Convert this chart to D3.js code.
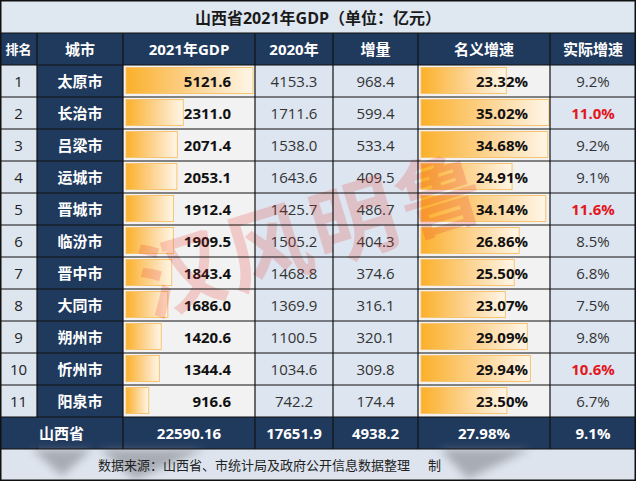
<!DOCTYPE html>
<html><head><meta charset="utf-8">
<script src="https://cdn.jsdelivr.net/npm/d3@7"></script>
<style>html,body{margin:0;padding:0;background:#fff;}svg{display:block;}</style>
</head><body>
<script>
const title = "山西省2021年GDP（单位：亿元）";
const headers = ["排名","城市","2021年GDP","2020年","增量","名义增速","实际增速"];
const ranks = [1,2,3,4,5,6,7,8,9,10,11];
const cities = ["太原市","长治市","吕梁市","运城市","晋城市","临汾市","晋中市","大同市","朔州市","忻州市","阳泉市"];
const gdp2021 = [5121.6,2311.0,2071.4,2053.1,1912.4,1909.5,1843.4,1686.0,1420.6,1344.4,916.6];
const gdp2020 = [4153.3,1711.6,1538.0,1643.6,1425.7,1505.2,1468.8,1369.9,1100.5,1034.6,742.2];
const increase = [968.4,599.4,533.4,409.5,486.7,404.3,374.6,316.1,320.1,309.8,174.4];
const nominal = [23.32,35.02,34.68,24.91,34.14,26.86,25.50,23.07,29.09,29.94,23.50];
const realGrowth = [9.2,11.0,9.2,9.1,11.6,8.5,6.8,7.5,9.8,10.6,6.7];
const totals = ["山西省","22590.16","17651.9","4938.2","27.98%","9.1%"];
const source = "数据来源：山西省、市统计局及政府公开信息数据整理";
const watermark = "汉风明鲁";

const W = 636, H = 481;
const colX = [0,37,123,255,333,418,550,636];
const titleH = 33, rowH = 32;
const headerTop = 33, rowsTop = 65;
const totalTop = rowsTop + rowH*cities.length; // 417
const sourceTop = totalTop + rowH; // 449
const NAVY = "#203a5e", LIGHT = "#dce5f0", GREY = "#f2f2f2";
const FONT = "'Open Sans','Noto Sans CJK SC',sans-serif";
const colBg = ["#dde5ef", NAVY, GREY, LIGHT, LIGHT, GREY, LIGHT];

const svg = d3.select("body").append("svg").attr("width", W).attr("height", H)
  .style("font-family", FONT);

const defs = svg.append("defs");
const grad = defs.append("linearGradient").attr("id","barGrad");
grad.append("stop").attr("offset","0%").attr("stop-color","#fbb02a");
grad.append("stop").attr("offset","55%").attr("stop-color","#fdd596");
grad.append("stop").attr("offset","100%").attr("stop-color","#fff6e8");
const blur = defs.append("filter").attr("id","blur").attr("x","-50%").attr("y","-50%").attr("width","200%").attr("height","200%");
blur.append("feGaussianBlur").attr("stdDeviation", 4);

const y = d3.scaleBand().domain(d3.range(cities.length)).range([rowsTop, totalTop]);
const gdpScale = d3.scaleLinear().domain([0, d3.max(gdp2021)]).range([0, colX[3]-colX[2]-5]);
const pctScale = d3.scaleLinear().domain([0, d3.max(nominal)]).range([0, colX[6]-colX[5]-4]);

// title band
svg.append("rect").attr("x",0).attr("y",0).attr("width",W).attr("height",titleH).attr("fill","#dfe7f1");
svg.append("text").attr("x",W/2).attr("y",titleH/2+1).attr("text-anchor","middle").attr("dominant-baseline","central")
  .attr("font-size",16).attr("font-weight","bold").attr("fill","#1a1a1a").text(title);

// header
svg.append("rect").attr("x",0).attr("y",headerTop).attr("width",W).attr("height",rowH).attr("fill",NAVY);
headers.forEach((h,i)=>{
  svg.append("text").attr("x",(colX[i]+colX[i+1])/2).attr("y",headerTop+rowH/2)
    .attr("text-anchor","middle").attr("dominant-baseline","central")
    .attr("font-size", i===0?13:15).attr("font-weight","bold").attr("fill","#fff").text(h);
});

// column backgrounds for data rows
colBg.forEach((c,i)=>{
  svg.append("rect").attr("x",colX[i]).attr("y",rowsTop).attr("width",colX[i+1]-colX[i]).attr("height",totalTop-rowsTop).attr("fill",c);
});

const rows = svg.append("g").selectAll("g").data(cities).join("g")
  .attr("transform",(d,i)=>`translate(0,${y(i)})`);

// bars
rows.append("rect").attr("x",colX[2]+3).attr("y",2.5).attr("height",rowH-6)
  .attr("width",(d,i)=>gdpScale(gdp2021[i])).attr("fill","url(#barGrad)")
  .attr("stroke","#f6c46e").attr("stroke-width",1);
rows.append("rect").attr("x",colX[5]+3).attr("y",2.5).attr("height",rowH-6)
  .attr("width",(d,i)=>pctScale(nominal[i])).attr("fill","url(#barGrad)")
  .attr("stroke","#f6c46e").attr("stroke-width",1);

// watermark
svg.append("text").attr("transform","translate(312,232) rotate(-17)")
  .attr("text-anchor","middle").attr("dominant-baseline","central")
  .attr("font-size",86).attr("font-weight","bold").attr("fill","#e8302a").attr("opacity",0.2)
  .attr("letter-spacing",4).text(watermark);

const mid = i => (colX[i]+colX[i+1])/2;
const txt = (sel, x, anchor, size, weight, fill, fn) => sel.append("text")
  .attr("x",x).attr("y",rowH/2).attr("text-anchor",anchor).attr("dominant-baseline","central")
  .attr("font-size",size).attr("font-weight",weight).attr("fill",fill).text(fn);

txt(rows, mid(0), "middle", 15, "normal", "#222", (d,i)=>ranks[i]);
txt(rows, mid(1), "middle", 15, "bold", "#fff", d=>d);
txt(rows, 231, "end", 15, "bold", "#111", (d,i)=>gdp2021[i].toFixed(1));
txt(rows, mid(3), "middle", 15, "normal", "#333", (d,i)=>gdp2020[i].toFixed(1));
txt(rows, mid(4), "middle", 15, "normal", "#333", (d,i)=>increase[i].toFixed(1));
txt(rows, 528, "end", 15, "bold", "#111", (d,i)=>nominal[i].toFixed(2)+"%");
rows.append("text").attr("x",mid(6)).attr("y",rowH/2).attr("text-anchor","middle").attr("dominant-baseline","central")
  .attr("font-size",15)
  .attr("font-weight",(d,i)=>realGrowth[i]>=10?"bold":"normal")
  .attr("fill",(d,i)=>realGrowth[i]>=10?"#e3171e":"#333")
  .text((d,i)=>realGrowth[i].toFixed(1)+"%");

// total row
svg.append("rect").attr("x",0).attr("y",totalTop).attr("width",W).attr("height",rowH).attr("fill",NAVY);
const totalX = [(colX[0]+colX[2])/2, mid(2), mid(3), mid(4), mid(5), mid(6)];
totals.forEach((t,i)=>{
  svg.append("text").attr("x",totalX[i]).attr("y",totalTop+rowH/2).attr("text-anchor","middle").attr("dominant-baseline","central")
    .attr("font-size",15).attr("font-weight","bold").attr("fill","#fff").text(t);
});

// source row
svg.append("rect").attr("x",0).attr("y",sourceTop).attr("width",W).attr("height",H-sourceTop).attr("fill","#dde4ee");
const blobs = svg.append("g").attr("filter","url(#blur)").attr("opacity",0.55);
[[[32,449],[92,449],[62,476]],[[100,449],[205,449],[135,480]],[[440,449],[530,449],[468,479]]].forEach(p=>{
  blobs.append("path").attr("d", d3.line()(p)+"Z").attr("fill","#7d7f85");
});
svg.append("text").attr("x",410).attr("y",sourceTop+rowH/2).attr("text-anchor","end").attr("dominant-baseline","central")
  .attr("font-size",13).attr("fill","#222").text(source);
svg.append("text").attr("x",428).attr("y",sourceTop+rowH/2).attr("dominant-baseline","central")
  .attr("font-size",13).attr("fill","#222").text("制");

// grid lines
const grid = svg.append("g").attr("stroke","#111").attr("stroke-width",1.2);
[headerTop, rowsTop, ...d3.range(1,cities.length).map(i=>y(i)), totalTop, sourceTop].forEach(v=>{
  grid.append("line").attr("x1",0).attr("x2",W).attr("y1",v).attr("y2",v);
});
colX.slice(1,-1).forEach((x,i)=>{
  grid.append("line").attr("x1",x).attr("x2",x).attr("y1",headerTop).attr("y2",sourceTop)
    .attr("stroke", i===0 ? "#111" : "#111");
});
// remove vertical between rank & city in total row by overpainting
svg.append("rect").attr("x",colX[1]-1).attr("y",totalTop+1).attr("width",2).attr("height",rowH-2).attr("fill",NAVY);
svg.append("rect").attr("x",0.75).attr("y",0.75).attr("width",W-1.5).attr("height",H-1.5)
  .attr("fill","none").attr("stroke","#111").attr("stroke-width",1.5);
</script>
</body></html>
